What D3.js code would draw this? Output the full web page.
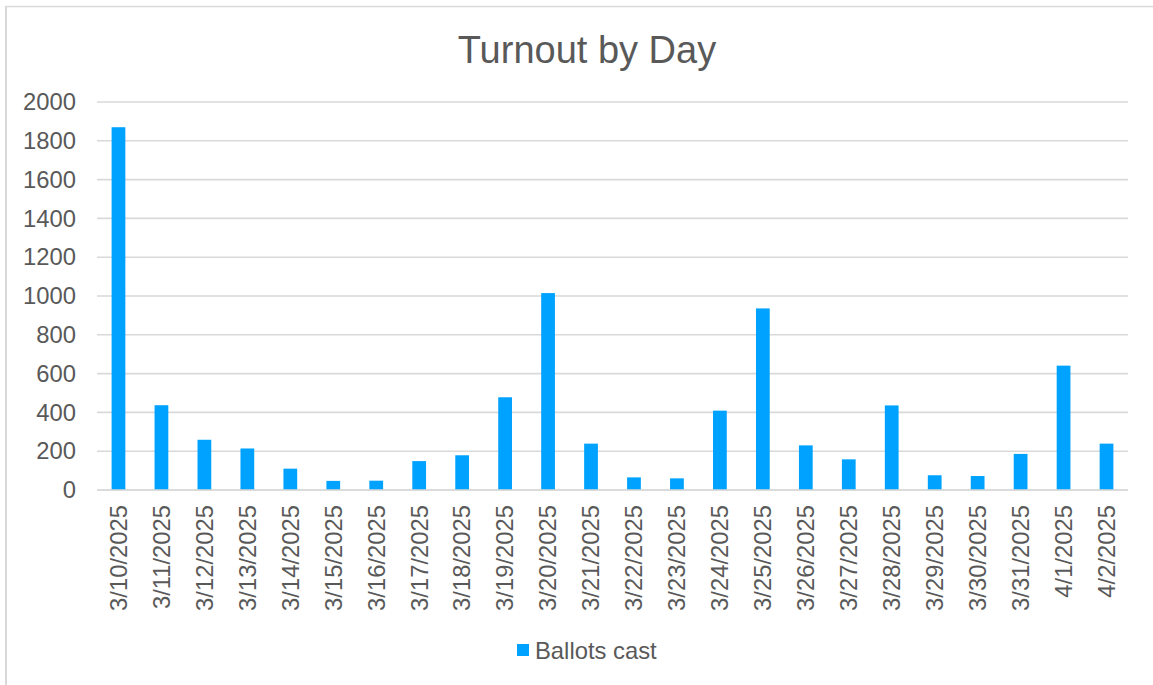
<!DOCTYPE html>
<html>
<head>
<meta charset="utf-8">
<script src="https://cdn.jsdelivr.net/npm/d3@7"></script>
<style>
  html, body { margin: 0; padding: 0; background: #fff; }
  svg { display: block; }
  text { font-family: "Liberation Sans", Arial, sans-serif; fill: #595959; }
</style>
</head>
<body>
<svg id="chart" width="1153" height="685"></svg>
<script>
const categories = ["3/10/2025","3/11/2025","3/12/2025","3/13/2025","3/14/2025","3/15/2025","3/16/2025","3/17/2025","3/18/2025","3/19/2025","3/20/2025","3/21/2025","3/22/2025","3/23/2025","3/24/2025","3/25/2025","3/26/2025","3/27/2025","3/28/2025","3/29/2025","3/30/2025","3/31/2025","4/1/2025","4/2/2025"];
const ballotsCast = [1870, 437, 259, 214, 110, 47, 48, 149, 179, 478, 1015, 239, 65, 60, 409, 936, 230, 158, 436, 76, 72, 186, 641, 239];
const yTicks = [0, 200, 400, 600, 800, 1000, 1200, 1400, 1600, 1800, 2000];
const seriesName = "Ballots cast";
const chartTitle = "Turnout by Day";

const svg = d3.select("#chart");
const W = 1153, H = 685;
const plot = { left: 97, right: 1128, top: 102, bottom: 490 };
const barColor = "#00a2ff";
const gridColor = "#d9d9d9";

// outer chart border (left and top visible)
svg.append("line").attr("x1", 6).attr("x2", 6).attr("y1", 6).attr("y2", H + 5)
  .attr("stroke", gridColor).attr("stroke-width", 2);
svg.append("line").attr("x1", 5).attr("x2", W + 5).attr("y1", 6.5).attr("y2", 6.5)
  .attr("stroke", gridColor).attr("stroke-width", 1.5);

const x = d3.scaleBand().domain(categories).range([plot.left, plot.right]).paddingInner(0.68).paddingOuter(0.34);
const y = d3.scaleLinear().domain([0, 2000]).range([plot.bottom, plot.top]);

// title
svg.append("text").attr("x", 587).attr("y", 62.5).attr("text-anchor", "middle")
  .style("font-size", "38px").text(chartTitle);

// gridlines
svg.append("g").selectAll("line").data(yTicks).join("line")
  .attr("x1", plot.left).attr("x2", plot.right)
  .attr("y1", d => y(d)).attr("y2", d => y(d))
  .attr("stroke", gridColor).attr("stroke-width", 1.6);

// y axis labels
const yAxis = d3.axisLeft(y).tickValues(yTicks).tickSize(0).tickPadding(0).tickFormat(d3.format("d"));
const gy = svg.append("g").attr("transform", `translate(76,0)`).call(yAxis);
gy.select(".domain").remove();
gy.selectAll("text").style("font-size", "23.8px").style("font-family", "Liberation Sans, Arial, sans-serif").attr("fill", "#595959");

// bars
svg.append("g").selectAll("rect").data(categories).join("rect")
  .attr("x", d => x(d))
  .attr("width", x.bandwidth())
  .attr("y", (d, i) => y(ballotsCast[i]))
  .attr("height", (d, i) => y(0) - y(ballotsCast[i]))
  .attr("fill", barColor);

// x axis line
svg.append("line").attr("x1", plot.left).attr("x2", plot.right)
  .attr("y1", y(0)).attr("y2", y(0)).attr("stroke", gridColor).attr("stroke-width", 1.6);

// x axis labels rotated
const xAxis = d3.axisBottom(x).tickSize(0).tickPadding(0);
const gx = svg.append("g").attr("transform", `translate(0,${plot.bottom})`).call(xAxis);
gx.select(".domain").remove();
gx.selectAll("text")
  .style("font-size", "23.8px").style("font-family", "Liberation Sans, Arial, sans-serif").attr("fill", "#595959")
  .attr("text-anchor", "end")
  .attr("dy", "0.35em")
  .attr("transform", "translate(0,15) rotate(-90)")
  .attr("x", 0).attr("y", 0);

// legend
const lg = svg.append("g");
lg.append("rect").attr("x", 517).attr("y", 644).attr("width", 12).attr("height", 12).attr("fill", barColor);
lg.append("text").attr("x", 535).attr("y", 658.5).style("font-size", "23.8px").text(seriesName);
</script>
</body>
</html>
